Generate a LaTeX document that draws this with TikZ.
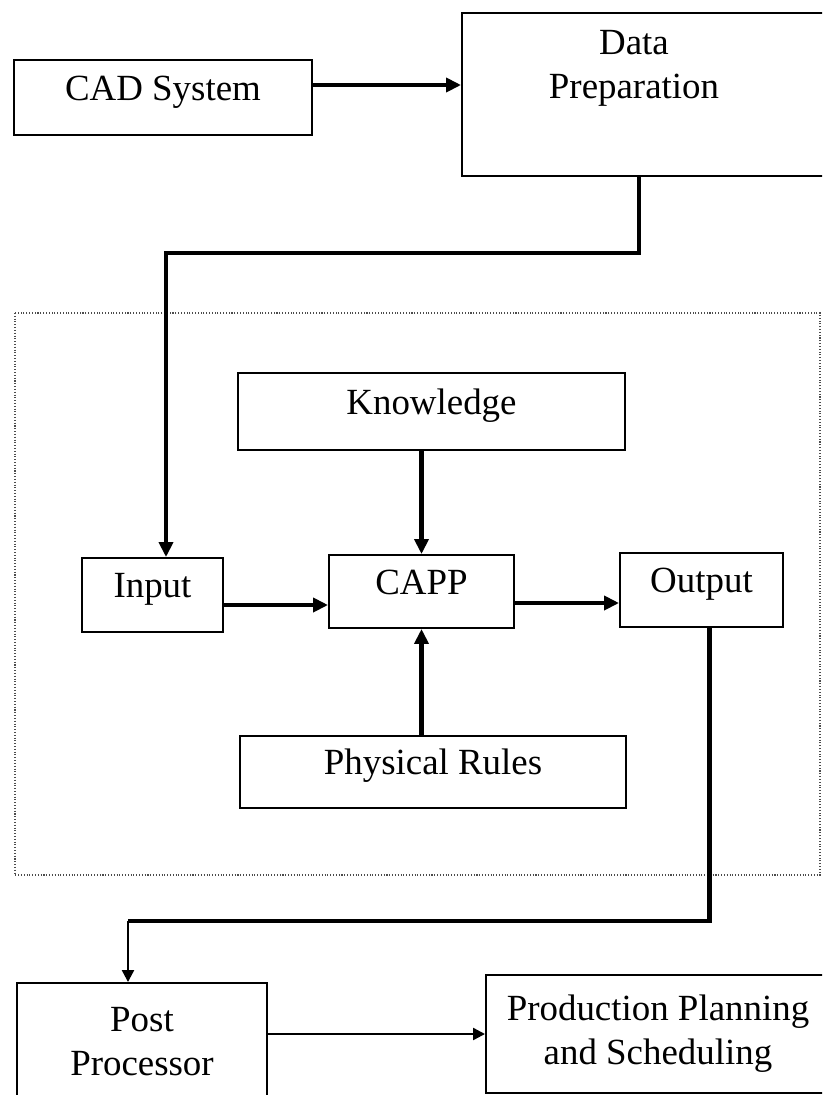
\documentclass[tikz,border=0pt]{standalone}
\usepackage{fontspec}
\setmainfont{Liberation Serif}
\usetikzlibrary{arrows.meta,positioning}

\begin{document}
\begin{tikzpicture}[
  block/.style={draw, line width=1.1pt, text height=0.7em, text depth=0.4em, font=\fontsize{21}{25}\selectfont},
  tall/.style={draw, line width=1.1pt, align=center, font=\fontsize{21}{25}\selectfont},
  flow/.style={-{Triangle[length=3mm, width=2.8mm]}, line width=2.3pt},
  thinflow/.style={-{Triangle[length=2.4mm, width=2.4mm]}, line width=1.3pt},
  frame/.style={densely dotted, line width=0.6pt, draw=black!70}
]
\clip (0,0) rectangle (16.44,-21.9);

\node[block, minimum width=5.96cm, minimum height=1.5cm] (cad) at (3.26,-1.95) {CAD System};
\node[tall, minimum width=7.36cm, minimum height=3.26cm] (prep) at (12.92,-1.89) {};
\node[align=center, font=\fontsize{21}{25}\selectfont] (prepText) at (12.68,-1.36) {Data\\Preparation};

\draw[frame] (0.3,-6.26) rectangle (16.4,-17.5);

\node[block, minimum width=7.74cm, minimum height=1.54cm] (know) at (8.63,-8.23) {Knowledge};
\node[block, minimum width=2.82cm, minimum height=1.48cm] (input) at (3.05,-11.9) {Input};
\node[block, minimum width=3.7cm, minimum height=1.46cm] (capp) at (8.43,-11.83) {CAPP};
\node[block, minimum width=3.26cm, minimum height=1.48cm] (output) at (14.03,-11.8) {Output};
\node[block, minimum width=7.72cm, minimum height=1.44cm] (rules) at (8.66,-15.44) {Physical Rules};

\node[tall, minimum width=5cm, minimum height=2.34cm] (post) at (2.84,-20.83) {Post\\Processor};
\node[tall, minimum width=6.88cm, minimum height=2.36cm] (prod) at (13.16,-20.68) {Production Planning\\and Scheduling};

\coordinate (k1) at (8,-5.06);
\coordinate (k2) at (2.56,-18.42);

\draw[flow] ([yshift=0.25cm]cad.east) -- ([yshift=0.25cm]cad.east -| prep.west);
\draw[flow] ([xshift=-0.14cm]prep.south) |- (k1) -| ([xshift=0.27cm]input.north);
\draw[flow] (capp.north |- know.south) -- (capp.north);
\draw[flow] (capp.south |- rules.north) -- (capp.south);
\draw[flow] ([yshift=-0.2cm]input.east) -- ([yshift=-0.2cm]input.east -| capp.west);
\draw[flow] ([yshift=-0.23cm]capp.east) -- ([yshift=-0.23cm]capp.east -| output.west);
\draw[line width=2.3pt] ([xshift=0.16cm]output.south) |- (k2);
\draw[thinflow] (k2) -- (k2 |- post.north);
\draw[thinflow] (post.east |- prod.west) -- (prod.west);
\end{tikzpicture}
\end{document}
